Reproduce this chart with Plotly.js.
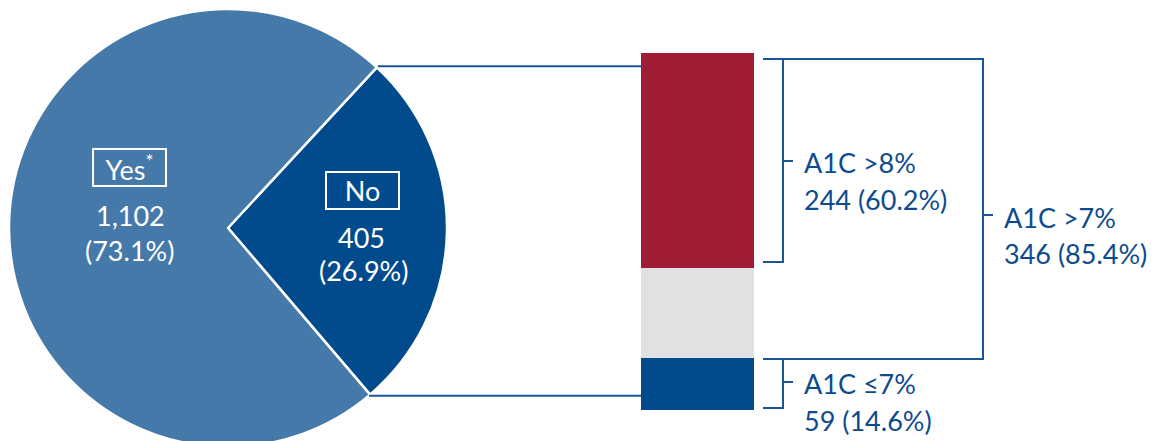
<!DOCTYPE html>
<html>
<head>
<meta charset="utf-8">
<script src="https://cdn.plot.ly/plotly-3.0.1.min.js"></script>
<style>
html,body{margin:0;padding:0;overflow:hidden;background:#fff;width:1154px;height:441px;}
#chart{width:1154px;height:456px;}
</style>
</head>
<body>
<div id="chart"></div>
<script>
// ---- data ----
const pieLabels = ['No', 'Yes'];
const pieCounts = [405, 1102];
const piePcts = [26.9, 73.1];
const barCats = ['A1C ≤7%', 'A1C 7–8%', 'A1C >8%'];
const barCounts = [59, 102, 244];
const barPcts = [14.6, 25.2, 60.2];
const groupLabel = 'A1C >7%';
const groupCount = 346;
const groupPct = 85.4;

// ---- layout helpers ----
const W = 1154, H = 456;
const X = v => v / W;
const Y = v => 1 - v / H;
const FONT = 'Lato, "Open Sans", sans-serif';
const LINE = '#1a5597';
const TXT = '#0e4b8e';
const FS = 27;
const fmt = n => n.toLocaleString('en-US');

const pieColors = ['#014b8d', '#4479a9'];
const barColors = ['#014b8d', '#e0e1e3', '#9e1d35'];

const rot = 42.8;
const cx = 228, cy = 228, R = 219;
const total = pieCounts.reduce((a, b) => a + b, 0);
const a1 = rot * Math.PI / 180;
const a2 = (rot + 360 * pieCounts[0] / total) * Math.PI / 180;
const p1 = [cx + R * Math.sin(a1), cy - R * Math.cos(a1)];
const p2 = [cx + R * Math.sin(a2), cy - R * Math.cos(a2)];
const barLeft = 641, barRight = 754, barTop = 52.5, barBottom = 410;

const traces = [{
  type: 'pie',
  labels: pieLabels,
  values: pieCounts,
  marker: {colors: pieColors, line: {color: '#ffffff', width: 2.5}},
  sort: false,
  direction: 'clockwise',
  rotation: rot,
  textinfo: 'none',
  hoverinfo: 'skip',
  showlegend: false,
  domain: {x: [X(cx - R), X(cx + R)], y: [Y(cy + R), Y(cy - R)]}
}];
barCats.forEach((c, i) => {
  traces.push({
    type: 'bar',
    x: ['A1C'],
    y: [barCounts[i]],
    name: c,
    width: 1,
    marker: {color: barColors[i], line: {width: 0}},
    hoverinfo: 'skip',
    showlegend: false
  });
});

const pathPx = pts => pts.map(p => (p[0] === 'M' ? 'M' : 'L') + X(p[1]) + ',' + Y(p[2])).join(' ');
const seg = (x0, y0, x1, y1) => ({type: 'line', xref: 'paper', yref: 'paper',
  x0: X(x0), y0: Y(y0), x1: X(x1), y1: Y(y1), line: {color: LINE, width: 2}});
const path = d => ({type: 'path', xref: 'paper', yref: 'paper', path: d, line: {color: LINE, width: 2}});

const shapes = [
  seg(p1[0] + 1, p1[1] - 1, barLeft, p1[1] - 1),
  seg(p2[0] - 1, p2[1] + 1, barLeft, p2[1] + 1),
  path(pathPx([['M', 763, 59], ['L', 983, 59], ['L', 983, 359], ['L', 763, 359]])),
  path(pathPx([['M', 783, 59], ['L', 783, 262], ['L', 763, 262]])),
  seg(783, 161, 793, 161),
  seg(983, 215, 993, 215),
  path(pathPx([['M', 783, 359], ['L', 783, 408], ['L', 763, 408]])),
  seg(783, 382, 793, 382)
];

const ann = (txt, x, y, opts) => Object.assign({
  text: txt, xref: 'paper', yref: 'paper', x: X(x), y: Y(y),
  xanchor: 'center', yanchor: 'middle', showarrow: false,
  font: {family: FONT, size: FS, color: '#ffffff'}
}, opts || {});
const boxOpts = {width: 71, height: 35, bordercolor: '#ffffff', borderwidth: 2, borderpad: 0};
const rightOpts = {xanchor: 'left', font: {family: FONT, size: FS, color: TXT}};

const annotations = [
  ann(pieLabels[1] + '<sup>*</sup>', 129.5, 167.5, boxOpts),
  ann(fmt(pieCounts[1]), 130, 215),
  ann('(' + piePcts[1].toFixed(1) + '%)', 129, 250.5),
  ann(pieLabels[0], 362, 190.5, boxOpts),
  ann(fmt(pieCounts[0]), 361, 237.5),
  ann('(' + piePcts[0].toFixed(1) + '%)', 363, 270.5),
  ann(barCats[2], 802, 162, rightOpts),
  ann(barCounts[2] + ' (' + barPcts[2].toFixed(1) + '%)', 802, 199, rightOpts),
  ann(groupLabel, 1002, 217, rightOpts),
  ann(groupCount + ' (' + groupPct.toFixed(1) + '%)', 1002, 253, rightOpts),
  ann(barCats[0], 802, 383, rightOpts),
  ann(barCounts[0] + ' (' + barPcts[0].toFixed(1) + '%)', 802, 420, rightOpts)
];

const layout = {
  width: W, height: H,
  margin: {l: 0, r: 0, t: 0, b: 0},
  paper_bgcolor: '#ffffff', plot_bgcolor: 'rgba(0,0,0,0)',
  barmode: 'stack',
  bargap: 0,
  xaxis: {domain: [X(barLeft), X(barRight)], range: [-0.5, 0.5], visible: false, fixedrange: true},
  yaxis: {domain: [Y(barBottom), Y(barTop)], range: [0, pieCounts[0]], visible: false, fixedrange: true},
  shapes: shapes,
  annotations: annotations,
  font: {family: FONT}
};

Plotly.newPlot('chart', traces, layout, {displayModeBar: false, staticPlot: true});
</script>
</body>
</html>
